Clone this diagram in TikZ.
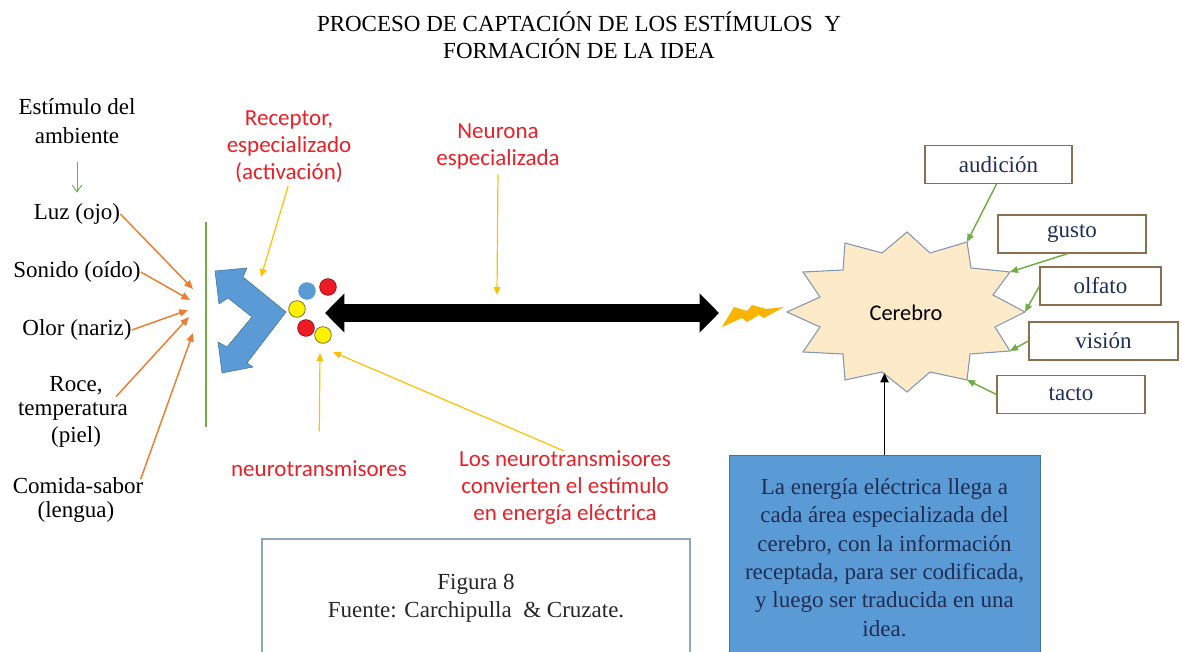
\documentclass[tikz,border=0pt]{standalone}
\usepackage{fontspec}
\setmainfont{Liberation Serif}
\newfontfamily\calib{Carlito}
\usetikzlibrary{arrows.meta}
\definecolor{ored}{RGB}{232,32,40}
\definecolor{oorange}{RGB}{237,125,49}
\definecolor{ogreen}{RGB}{112,173,71}
\definecolor{oyellow}{RGB}{255,192,0}
\definecolor{oblue}{RGB}{91,155,213}
\definecolor{oblueb}{RGB}{65,113,156}
\definecolor{navy}{RGB}{31,45,85}
\definecolor{boxbrd}{RGB}{140,110,80}
\definecolor{starfill}{RGB}{252,234,200}
\definecolor{starbrd}{RGB}{132,151,176}
\definecolor{figbrd}{RGB}{143,168,192}
\definecolor{redc}{RGB}{237,28,36}
\definecolor{redcb}{RGB}{150,20,30}
\definecolor{yelc}{RGB}{255,242,0}
\definecolor{yelcb}{RGB}{120,110,40}
\definecolor{boltc}{RGB}{250,180,0}
\begin{document}
\begin{tikzpicture}[x=0.75pt,y=-0.75pt,
  tnr/.style={font=\fontsize{17.25}{19.5}\selectfont, align=center, inner sep=0pt},
  redtxt/.style={font=\calib\fontsize{17.25}{20.25}\selectfont, align=center, inner sep=0pt, text=ored},
  sense/.style={tnr, draw=boxbrd, line width=0.8pt, text=navy, minimum height=28.5pt},
  oarr/.style={draw=oorange, line width=1.1pt, -{Triangle[length=6.5pt,width=5.5pt]}},
  garr/.style={draw=ogreen, line width=1.1pt, -{Triangle[length=6pt,width=5pt]}},
  yarr/.style={draw=oyellow, line width=0.9pt, -{Triangle[length=6pt,width=5pt]}},
  dot/.style={circle, inner sep=0pt, minimum size=12.5pt, line width=0.6pt}]
\useasboundingbox (0,0) rectangle (1182,652);
\clip (0,0) rectangle (1182,652);

% title
\node[tnr, font=\fontsize{17.25}{20.25}\selectfont] (title) at (579,35)
  {PROCESO DE CAPTACIÓN DE LOS ESTÍMULOS\ \ Y\\FORMACIÓN DE LA IDEA};

% left column
\node[tnr, font=\fontsize{17.25}{21.75}\selectfont] (stim) at (77,121.5) {Estímulo del\\ambiente};
\node[tnr] (luz) at (77,214) {Luz (ojo)};
\node[tnr] (son) at (77,272) {Sonido (oído)};
\node[tnr] (olor) at (77,330) {Olor (nariz)};
\node[tnr] (roce) at (76,386) {Roce,};
\node[tnr] (temp) at (73,411) {temperatura};
\node[tnr] (piel) at (76,437) {(piel)};
\node[tnr] (com) at (78,486) {Comida-sabor};
\node[tnr] (leng) at (76,512) {(lengua)};

\draw[draw=ogreen, line width=0.7pt, -{Straight Barb[length=5pt,width=7pt]}, shorten <=13pt, shorten >=8pt] (stim.south) -- (luz.north);

\coordinate (t1) at (193,289);
\coordinate (t2) at (190,300);
\coordinate (t3) at (188,310);
\coordinate (t4) at (189,317);
\coordinate (t5) at (193,333);
\draw[oarr] (luz.east) -- (t1);
\draw[oarr] (son.east) -- (t2);
\draw[oarr] (olor.east) -- (t3);
\draw[oarr] ([xshift=-9pt,yshift=4pt]temp.north east) -- (t4);
\draw[oarr] ([xshift=-2pt,yshift=-1pt]com.north east) -- (t5);

% membrane line
\draw[ogreen, line width=1.6pt] (206,222) -- (206,427);

% receptor chevron
\fill[oblue, draw=oblueb, line width=0.4pt] (215,271) -- (247,268) -- (243,277) -- (286,312) -- (247,363)
  -- (253,367) -- (222,373) -- (218,342) -- (227,347) -- (252,317) -- (228,298) -- (219,304) -- cycle;

% neurotransmitter dots
\node[dot, fill=oblue, draw=oblue] (c1) at (307,291) {};
\node[dot, fill=redc, draw=redcb] (c2) at (328,287) {};
\node[dot, fill=yelc, draw=yelcb] (c3) at (297,309) {};
\node[dot, fill=redc, draw=redcb] (c4) at (306,328) {};
\node[dot, fill=yelc, draw=yelcb] (c5) at (323,335) {};

% neuron double arrow
\coordinate (nL) at (325,313);
\coordinate (nR) at (719,313);
\draw[black, line width=14pt, {Triangle[length=14.5pt,width=28.5pt]}-{Triangle[length=14.5pt,width=28.5pt]}] (nL) -- (nR);

% lightning
\fill[boltc] (722,327) -- (734,307) -- (747,311) -- (752,305) -- (766,309) -- (784,307) -- (764,318)
  -- (759,315) -- (747,322) -- (742,318) -- cycle;

% brain starburst
\filldraw[fill=starfill, draw=starbrd, line width=0.8pt]
  (907,232) -- (930,253) -- (967,242) -- (971,268) -- (1010,272) -- (993,295) -- (1025,312)
  -- (995,327) -- (1010,351) -- (970,354) -- (967,380) -- (930,372) -- (907,392) -- (882,372)
  -- (845,380) -- (843,354) -- (803,352) -- (820,327) -- (787,312) -- (820,297) -- (803,272)
  -- (843,270) -- (845,243) -- (882,253) -- cycle;
\node[font=\calib\fontsize{16.8}{20}\selectfont, inner sep=0pt] (cer) at (906,313) {Cerebro};
\coordinate (sA) at (967,242);
\coordinate (sB) at (1010,272);
\coordinate (sC) at (1025,312);
\coordinate (sD) at (1010,351);
\coordinate (sE) at (967,380);
\coordinate (sF) at (884.5,373);

% sense boxes
\node[sense, minimum width=110.25pt] (aud) at (998.5,164.5) {audición};
\node[sense, minimum width=111pt] (gus) at (1072,234) {gusto};
\node[sense, minimum width=90.75pt] (olf) at (1100.5,286) {olfato};
\node[sense, minimum width=111.75pt] (vis) at (1103.5,341) {visión};
\node[sense, minimum width=111pt] (tac) at (1071,394.5) {tacto};
\draw[garr] ([xshift=-1.5pt]aud.south) -- (sA);
\draw[garr] ([xshift=-3pt]gus.south) -- (sB);
\draw[garr] (olf.west) -- (sC);
\draw[garr] (vis.west) -- (sD);
\draw[garr] (tac.west) -- (sE);

% info box
\node[tnr, font=\fontsize{17.25}{21.2}\selectfont, fill=oblue, draw=oblueb, line width=0.6pt, text=navy,
  minimum width=233.25pt, minimum height=153.75pt] (info) at (884.5,557.5)
  {La energía eléctrica llega a\\cada área especializada del\\cerebro, con la información\\receptada, para ser codificada,\\y luego ser traducida en una\\idea.};
\draw[black, line width=1.4pt, -{Triangle[length=7pt,width=6pt]}] (info.north) -- (sF);

% figure caption box
\node[tnr, font=\fontsize{17.25}{21}\selectfont, draw=figbrd, line width=0.8pt, text=black!85,
  minimum width=321pt, minimum height=88.5pt] (fig) at (476,598)
  {Figura 8\\Fuente: Carchipulla\ \ \& Cruzate.};

% red labels
\node[redtxt] (rec) at (289,147) {Receptor,\\especializado\\(activación)};
\node[redtxt] (neu) at (498,146) {Neurona\\especializada};
\node[redtxt] (nt) at (319,469) {neurotransmisores};
\node[redtxt] (los) at (565,488) {Los neurotransmisores\\convierten el estímulo\\en energía eléctrica};

\coordinate (yR) at (261,277);
\coordinate (yN) at (497,295);
\coordinate (yT) at (320,353);
\coordinate (yL) at (333,352);
\draw[yarr, shorten <=2pt] (rec.south) -- (yR);
\draw[yarr, shorten <=4pt] (neu.south) -- (yN);
\draw[yarr, shorten <=22pt] (nt.north) -- (yT);
\draw[yarr] ([xshift=-1pt]los.north) -- (yL);
\end{tikzpicture}
\end{document}
